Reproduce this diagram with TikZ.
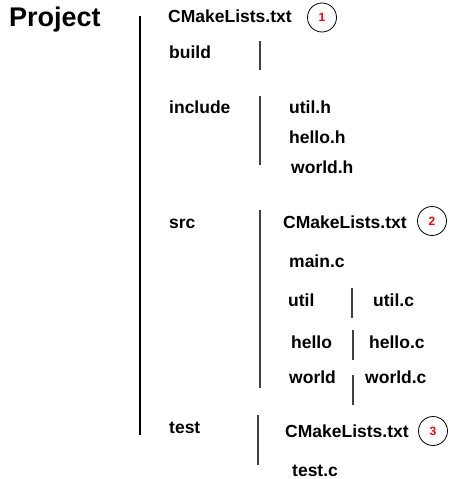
\documentclass[tikz,border=0pt]{standalone}
\usepackage{fontspec}
\setmainfont{Liberation Sans}
\begin{document}
\begin{tikzpicture}[x=1pt,y=-1pt,
  lbl/.style={anchor=base west,inner sep=0pt,font=\fontsize{17.5}{20}\selectfont\bfseries},
  big/.style={anchor=base west,inner sep=0pt,font=\fontsize{27}{30}\selectfont\bfseries},
  num/.style={circle,draw=black,line width=0.8pt,minimum size=29pt,inner sep=0pt,text=red,font=\fontsize{12}{13}\selectfont\bfseries},
  bar/.style={draw=black!75,line width=1.1pt}]
\useasboundingbox (0,0) rectangle (450,479);
\node[big] (project) at (9,26) {Project};
\coordinate (m1) at (140,16); \coordinate (m2) at (140,435);
\draw[bar,draw=black,line width=1.3pt] (m1) -- (m2);
\node[lbl] (cm1) at (168,23) {CMakeLists.txt};
\node[num] (c1) at (322,17.5) {1};
\node[lbl] (build) at (169,58) {build};
\coordinate (b1) at (260,41); \coordinate (b2) at (260,70);
\draw[bar] (b1) -- (b2);
\node[lbl] (include) at (169,113) {include};
\coordinate (i1) at (260,96); \coordinate (i2) at (260,165);
\draw[bar] (i1) -- (i2);
\node[lbl] (utilh) at (289,113) {util.h};
\node[lbl] (helloh) at (289,143) {hello.h};
\node[lbl] (worldh) at (291,173) {world.h};
\node[lbl] (src) at (169,228) {src};
\coordinate (s1) at (260,210); \coordinate (s2) at (260,388);
\draw[bar] (s1) -- (s2);
\node[lbl] (cm2) at (283,228) {CMakeLists.txt};
\node[num] (c2) at (432,221) {2};
\node[lbl] (mainc) at (289,267) {main.c};
\node[lbl] (util) at (288,306) {util};
\coordinate (u1) at (352,288); \coordinate (u2) at (352,318);
\draw[bar] (u1) -- (u2);
\node[lbl] (utilc) at (373,306) {util.c};
\node[lbl] (hello) at (291,348) {hello};
\coordinate (h1) at (353,330); \coordinate (h2) at (353,360);
\draw[bar] (h1) -- (h2);
\node[lbl] (helloc) at (369,348) {hello.c};
\node[lbl] (world) at (289,383) {world};
\coordinate (w1) at (353,375); \coordinate (w2) at (353,405);
\draw[bar] (w1) -- (w2);
\node[lbl] (worldc) at (365,383) {world.c};
\node[lbl] (test) at (169,433) {test};
\coordinate (t1) at (258,415); \coordinate (t2) at (258,465);
\draw[bar] (t1) -- (t2);
\node[lbl] (cm3) at (285,437) {CMakeLists.txt};
\node[num] (c3) at (433,431) {3};
\node[lbl] (testc) at (292,476) {test.c};
\end{tikzpicture}
\end{document}
